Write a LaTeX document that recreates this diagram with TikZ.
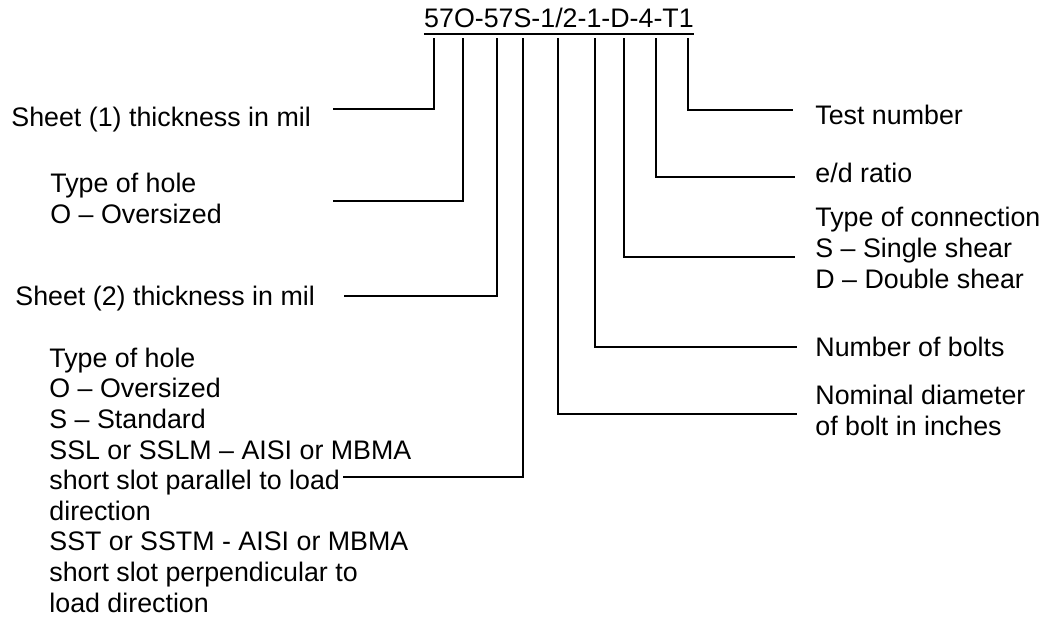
\documentclass[tikz,border=0pt]{standalone}
\usepackage{fontspec}
\setmainfont{Liberation Sans}

\begin{document}
\begin{tikzpicture}[x=0.5pt,y=-0.5pt,
 lbl/.style={anchor=base west,inner sep=0pt,align=left,font=\fontsize{13.4}{15.3}\selectfont},
 lead/.style={line width=0.6pt}]
\useasboundingbox (0,0) rectangle (1045,617);
\node[lbl,anchor=base] (code) at (559,27) {57O-57S-1/2-1-D-4-T1};
\draw[lead] ([yshift=-3.5pt]code.base west) -- ([yshift=-3.5pt]code.base east);
% feet of the leaders under the code
\foreach \x [count=\i] in {434,463,497,523,558,595,624,656,688}
  \coordinate (c\i) at (\x,38);
% left side (a block sits on the baseline of its last line)
\node[lbl] (sheet1) at (11,126) {Sheet (1) thickness in mil};
\node[lbl] (hole1) at (50,223) {Type of hole\\O – Oversized};
\node[lbl] (sheet2) at (15,305) {Sheet (2) thickness in mil};
\node[lbl] (hole2) at (49,612) {Type of hole\\O – Oversized\\S – Standard\\SSL or SSLM – AISI or MBMA\\short slot parallel to load\\direction\\SST or SSTM - AISI or MBMA\\short slot perpendicular to\\load direction};
% right side
\node[lbl] (test) at (815,124) {Test number};
\node[lbl] (ratio) at (815,182) {e/d ratio};
\node[lbl] (conn) at (815,288) {Type of connection\\S – Single shear\\D – Double shear};
\node[lbl] (bolts) at (815,356) {Number of bolts};
\node[lbl] (diam) at (815,435) {Nominal diameter\\of bolt in inches};
% ends of the leaders
\coordinate (e1) at (333,109);
\coordinate (e2) at (333,201);
\coordinate (e3) at (344,296);
\coordinate (e4) at (343,477);
\coordinate (e5) at (797,414);
\coordinate (e6) at (797,347);
\coordinate (e7) at (795,257);
\coordinate (e8) at (795,177);
\coordinate (e9) at (793,110);
\foreach \i in {1,...,9}
  \draw[lead] (c\i) |- (e\i);
\end{tikzpicture}
\end{document}
